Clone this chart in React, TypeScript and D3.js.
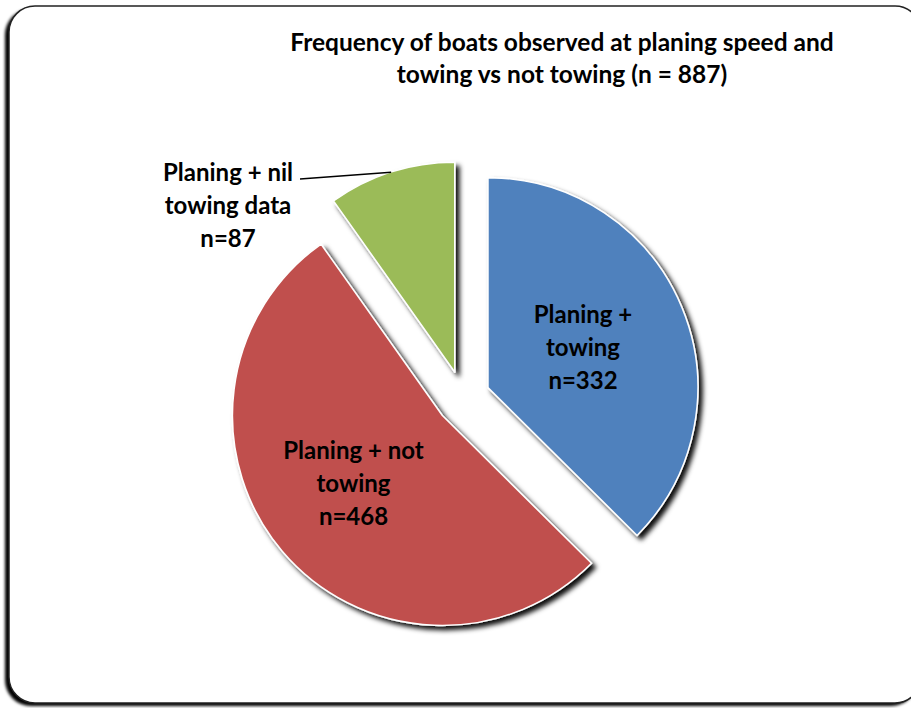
import React from "react";
import * as d3 from "d3";

// Boats at planing speed, split by towing status
const categories = ["Planing + towing", "Planing + not towing", "Planing + nil towing data"];
const counts = [332, 468, 87];
const labelLines = [
  ["Planing +", "towing", "n=332"],
  ["Planing + not", "towing", "n=468"],
  ["Planing + nil", "towing data", "n=87"],
];
const colors = ["#4F81BD", "#C0504D", "#9BBB59"];
const titleLines = [
  "Frequency of boats observed at planing speed and",
  "towing vs not towing (n = 887)",
];

const W = 911;
const H = 708;
const FONT = "Lato, 'Open Sans', sans-serif";

export default function App() {
  const cx = 463;
  const cy = 398;
  const r = 210;
  const explode = 27;
  // distance of each in-slice label from its slice apex, and a small nudge
  const labelRadius = [103, 110];
  const labelNudge = [
    [0, 0],
    [-5, -3],
  ];

  const pie = d3.pie<number>().sort(null).value((d) => d)(counts);
  const arc = d3.arc<d3.PieArcDatum<number>>().innerRadius(0).outerRadius(r);

  const offsetOf = (a: d3.PieArcDatum<number>) => {
    const mid = (a.startAngle + a.endAngle) / 2;
    return [Math.sin(mid) * explode, -Math.cos(mid) * explode];
  };

  // outer label for the small slice, with its leader line
  const g = pie[2];
  const gMid = (g.startAngle + g.endAngle) / 2;
  const [gox, goy] = offsetOf(g);
  const leadStart: [number, number] = [cx + gox + Math.sin(gMid) * r, cy + goy - Math.cos(gMid) * r];
  const outerLabel = { x: 228, y: 173 };
  const leadEnd: [number, number] = [outerLabel.x + 72, outerLabel.y + 6];

  const labelSize = 24;
  const lineGap = 33;

  return (
    <svg
      width={W}
      height={H}
      style={{ position: "absolute", left: 0, top: 0, background: "#fff" }}
      fontFamily={FONT}
    >
      <defs>
        <filter id="frameShadow" x="-5%" y="-5%" width="110%" height="110%">
          <feGaussianBlur stdDeviation="1.6" />
        </filter>
        <filter id="sliceShadow" x="-20%" y="-20%" width="140%" height="140%">
          <feDropShadow dx="4" dy="4" stdDeviation="2.4" floodColor="#000" floodOpacity="0.95" />
        </filter>
      </defs>

      {/* chart area frame */}
      <rect x={5} y={9} width={912} height={697} rx={26} fill="#000" filter="url(#frameShadow)" />
      <rect x={9} y={6} width={912} height={697} rx={26} fill="#fff" stroke="#222" strokeWidth={1.5} />

      {/* title */}
      <text textAnchor="middle" fontWeight={700} fontSize={24.5} fill="#000">
        {titleLines.map((t, i) => (
          <tspan key={i} x={562} y={51 + i * 32}>
            {t}
          </tspan>
        ))}
      </text>

      {/* exploded slices */}
      {pie.map((a, i) => {
        const [ox, oy] = offsetOf(a);
        return (
          <g key={categories[i]} transform={`translate(${cx + ox},${cy + oy})`}>
            <path
              d={arc(a) || ""}
              fill={colors[i]}
              stroke="#fff"
              strokeWidth={1.6}
              strokeLinejoin="round"
              filter="url(#sliceShadow)"
            />
          </g>
        );
      })}

      {/* in-slice labels */}
      {pie.slice(0, 2).map((a, i) => {
        const [ox, oy] = offsetOf(a);
        const lArc = d3.arc<d3.PieArcDatum<number>>().innerRadius(2 * labelRadius[i]).outerRadius(0);
        const [lx, ly] = lArc.centroid(a);
        const x = cx + ox + lx + labelNudge[i][0];
        const y = cy + oy + ly + labelNudge[i][1];
        return (
          <text key={i} textAnchor="middle" fontWeight={700} fontSize={labelSize} fill="#000">
            {labelLines[i].map((t, j) => (
              <tspan key={j} x={x} y={y - lineGap + j * lineGap + 8}>
                {t}
              </tspan>
            ))}
          </text>
        );
      })}

      {/* outside label and leader for the small slice */}
      <path
        d={`M${leadEnd[0]},${leadEnd[1]} L${leadStart[0]},${leadStart[1]}`}
        stroke="#000"
        strokeWidth={1.5}
        fill="none"
      />
      <text textAnchor="middle" fontWeight={700} fontSize={labelSize} fill="#000">
        {labelLines[2].map((t, j) => (
          <tspan key={j} x={outerLabel.x} y={outerLabel.y + j * lineGap + 8}>
            {t}
          </tspan>
        ))}
      </text>
    </svg>
  );
}
